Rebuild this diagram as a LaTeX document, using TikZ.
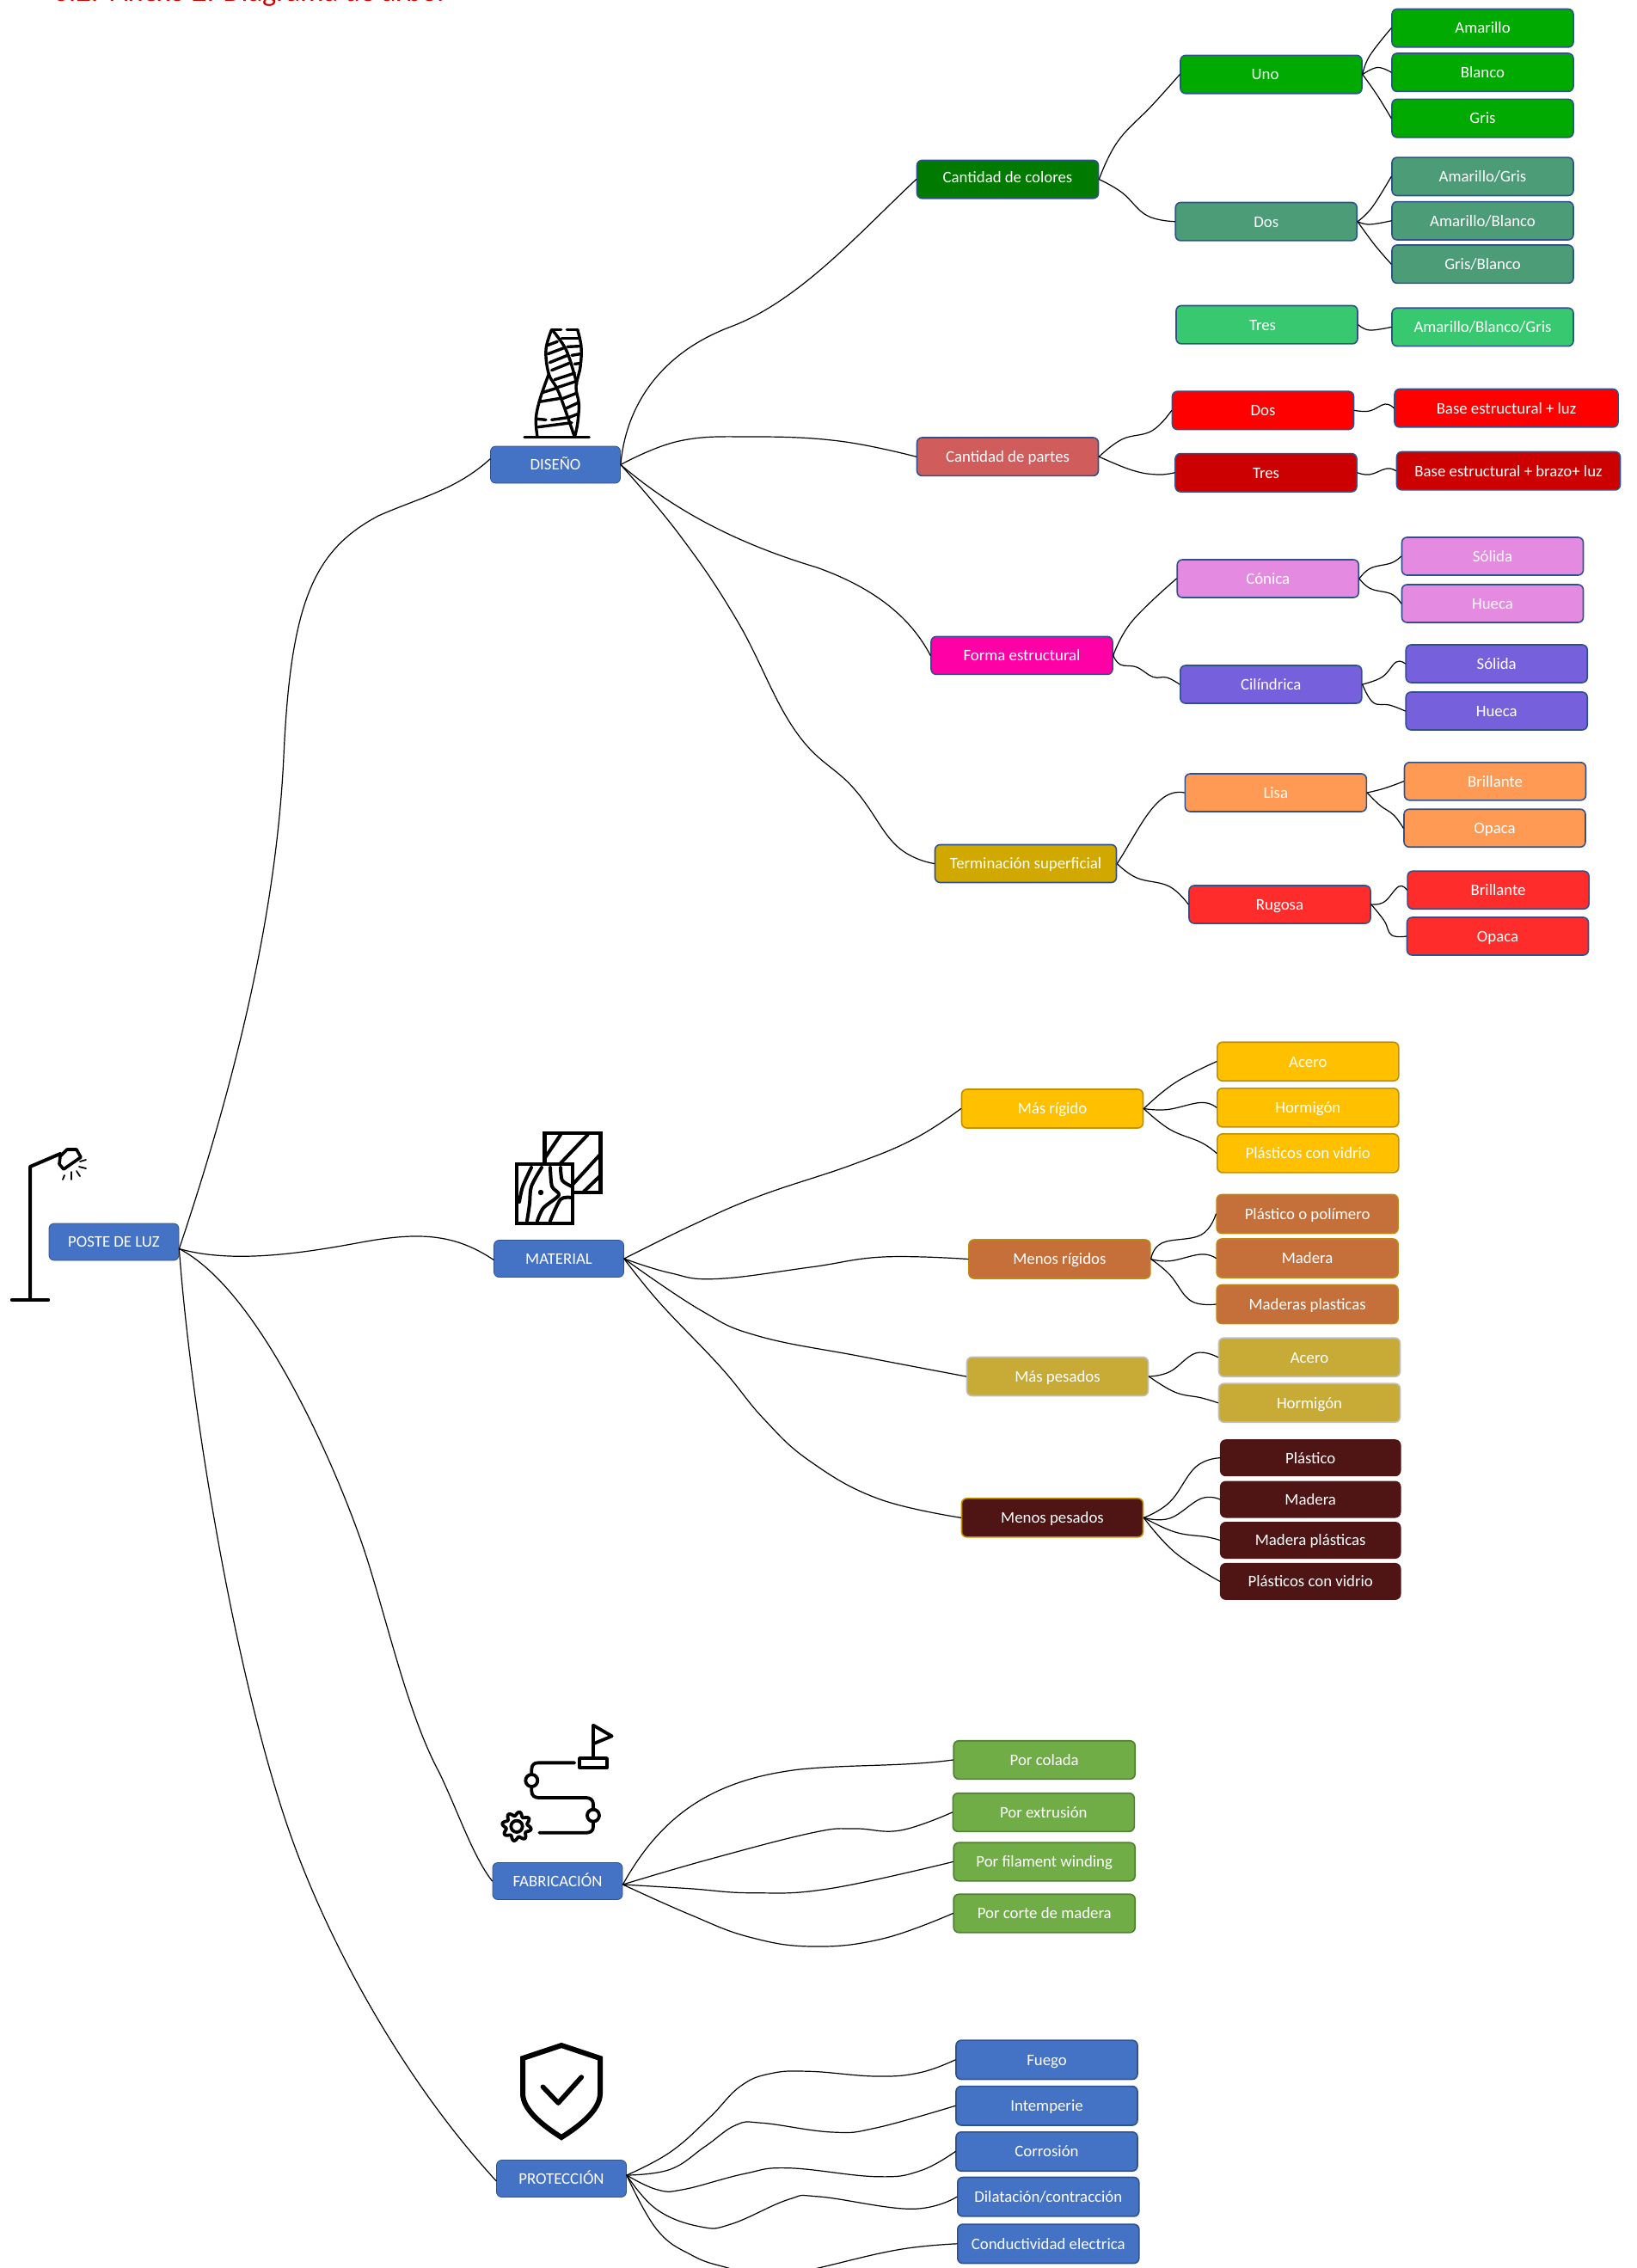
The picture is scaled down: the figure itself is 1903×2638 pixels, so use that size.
\documentclass[tikz,border=0pt]{standalone}
\usepackage{fontspec}
\setmainfont{Carlito}
\definecolor{cBlue}{HTML}{4472C4}\definecolor{cBlueD}{HTML}{2F528F}
\definecolor{cGreen}{HTML}{00AA00}\definecolor{cDGreen}{HTML}{007A00}
\definecolor{cTeal}{HTML}{4C9C78}\definecolor{cMint}{HTML}{38C870}
\definecolor{cRed}{HTML}{FF0000}\definecolor{cDRed}{HTML}{CC0000}
\definecolor{cRose}{HTML}{D05C5C}\definecolor{cPink}{HTML}{E48AE0}
\definecolor{cPurple}{HTML}{7660DC}\definecolor{cMag}{HTML}{FF00A6}
\definecolor{cOrange}{HTML}{FF9A55}\definecolor{cRug}{HTML}{FF2C2C}
\definecolor{cOcre}{HTML}{D0A800}\definecolor{cAmber}{HTML}{FFC000}
\definecolor{cAmberD}{HTML}{BF9000}\definecolor{cBrown}{HTML}{C5703A}
\definecolor{cSand}{HTML}{C8AB37}\definecolor{cMaroon}{HTML}{4F1414}
\definecolor{cLeaf}{HTML}{70AD47}\definecolor{cLeafD}{HTML}{507E32}
\definecolor{cTitle}{HTML}{D00000}
\tikzset{
 box/.style={rectangle,rounded corners=3pt,minimum width=105.5pt,minimum height=22.2pt,inner sep=0pt,text height=6.3pt,text depth=0pt,text=white,font=\fontsize{9.4}{10}\selectfont,line width=0.8pt,draw=cBlueD},
 root/.style={box,fill=cBlue,minimum width=75.5pt,minimum height=21.5pt,line width=0.4pt},
 wide/.style={minimum width=130pt},
 fGreen/.style={box,fill=cGreen},fDGreen/.style={box,fill=cDGreen},
 fTeal/.style={box,fill=cTeal},fMint/.style={box,fill=cMint},
 fRed/.style={box,fill=cRed},fDRed/.style={box,fill=cDRed},fRose/.style={box,fill=cRose},
 fPink/.style={box,fill=cPink,minimum height=22pt},fPurple/.style={box,fill=cPurple,minimum height=22pt},
 fMag/.style={box,fill=cMag,minimum height=22pt},fOrange/.style={box,fill=cOrange,minimum height=22pt},
 fRug/.style={box,fill=cRug,minimum height=22pt},fOcre/.style={box,fill=cOcre,minimum height=22pt},
 fAmber/.style={box,fill=cAmber,draw=cAmberD,minimum height=22.5pt},
 fBrown/.style={box,fill=cBrown,draw=cAmberD!70!cBrown,minimum height=22.5pt},
 fSand/.style={box,fill=cSand,draw=black!25,minimum height=22.5pt},
 fMaroon/.style={box,fill=cMaroon,draw=cAmberD,minimum height=22.5pt},
 fLeaf/.style={box,fill=cMaroon,draw=cMaroon,minimum width=104.5pt,minimum height=20.7pt},
 fGrass/.style={box,fill=cLeaf,draw=cLeafD,minimum height=22.3pt},
 fSea/.style={box,fill=cBlue,draw=cBlueD,minimum height=22.7pt},
 conn/.style={draw=black,line width=0.6pt,line cap=round},
 icon/.style={draw=black,line width=1.7pt,line cap=round,line join=round},
}
\begin{document}
\begin{tikzpicture}[x=0.5pt,y=-0.5pt]
\path[use as bounding box,clip] (0,0) rectangle (1903,2638);
\node[anchor=base west,text=cTitle,inner sep=0pt,font=\fontsize{17.2}{19}\selectfont] (title) at (62,2) {6.2.\hspace{7pt}Anexo 2. Diagrama de árbol};

% roots
\node[root] (poste) at (132.5,1444.5) {POSTE DE LUZ};
\node[root] (diseno) at (646,540.5) {DISEÑO};
\node[root] (material) at (650,1464) {MATERIAL};
\node[root] (fabrica) at (648.5,2188) {FABRICACIÓN};
\node[root] (protec) at (653,2534) {PROTECCIÓN};

% design
\node[fDGreen,text depth=2.5pt] (ccol) at (1172,208.6) {Cantidad de colores};
\node[fGreen] (uno) at (1478.5,86.6) {Uno\kern7pt};
\node[fGreen] (amarillo) at (1724.5,32.7) {Amarillo};
\node[fGreen] (blanco) at (1724.5,84.2) {Blanco};
\node[fGreen] (gris) at (1724.5,137.6) {Gris};
\node[fTeal] (dosc) at (1472.7,257.7) {Dos};
\node[fTeal] (amgr) at (1724.5,205.3) {Amarillo/Gris};
\node[fTeal] (ambl) at (1724.5,256.8) {Amarillo/Blanco};
\node[fTeal] (grbl) at (1724.5,307.2) {Gris/Blanco};
\node[fMint] (tresc) at (1473.5,377.7) {Tres\kern5pt};
\node[fMint] (amblgr) at (1724.5,380.4) {Amarillo/Blanco/Gris};
\node[fRose] (cpar) at (1172,531.2) {Cantidad de partes};
\node[fRed] (dosp) at (1469,477.4) {Dos};
\node[fRed,wide] (baseluz) at (1752,474.7) {Base estructural + luz};
\node[fDRed] (tresp) at (1472.5,549.8) {Tres};
\node[fDRed,wide] (basebr) at (1754.5,547.7) {Base estructural + brazo+ luz};
\node[fMag] (forma) at (1188.5,762.4) {Forma estructural};
\node[fPink] (conica) at (1474.7,673) {Cónica};
\node[fPink] (solpk) at (1736,647) {Sólida};
\node[fPink] (huepk) at (1736,702) {Hueca};
\node[fPurple] (cilin) at (1478.3,796) {Cilíndrica};
\node[fPurple] (solpu) at (1740.7,772) {Sólida};
\node[fPurple] (huepu) at (1740.7,827) {Hueca};
\node[fOcre] (termi) at (1193,1004.5) {Terminación superficial};
\node[fOrange] (lisa) at (1483.8,922) {Lisa};
\node[fOrange] (briol) at (1739,908.8) {Brillante};
\node[fOrange] (opaol) at (1738.5,963.2) {Opaca};
\node[fRug] (rugosa) at (1488.5,1052) {Rugosa};
\node[fRug] (brirg) at (1742.6,1035.2) {Brillante};
\node[fRug] (oparg) at (1742,1089) {Opaca};

% material
\node[fAmber] (mrig) at (1224,1289.5) {Más rígido};
\node[fAmber] (acero) at (1521.3,1234.7) {Acero};
\node[fAmber] (hormi) at (1521.3,1288.3) {Hormigón};
\node[fAmber] (plvid) at (1521.3,1341.4) {Plásticos con vidrio};
\node[fBrown] (merig) at (1232.4,1464.5) {Menos rígidos};
\node[fBrown] (plpol) at (1520.6,1412) {Plástico o polímero};
\node[fBrown] (made) at (1520.6,1463.5) {Madera};
\node[fBrown] (mapl) at (1520.6,1517) {Maderas plasticas};
\node[fSand] (mpes) at (1230,1601) {Más pesados};
\node[fSand] (acer2) at (1523,1578.7) {Acero};
\node[fSand] (horm2) at (1523,1631.7) {Hormigón};
\node[fMaroon] (mepes) at (1224,1765.3) {Menos pesados};
\node[fLeaf] (plas) at (1524.2,1695.7) {Plástico};
\node[fLeaf] (made2) at (1524.2,1744) {Madera};
\node[fLeaf] (mapl2) at (1524.2,1791.5) {Madera plásticas};
\node[fLeaf] (plvi2) at (1524.2,1839.4) {Plásticos con vidrio};

% fabrication
\node[fGrass] (colada) at (1214.7,2047) {Por colada};
\node[fGrass] (extru) at (1213.8,2108) {Por extrusión};
\node[fGrass] (filam) at (1214.7,2165.5) {Por filament winding};
\node[fGrass] (corte) at (1214.7,2225.5) {Por corte de madera};

% protection
\node[fSea] (fuego) at (1217.5,2395.8) {Fuego};
\node[fSea] (intem) at (1217.5,2449.3) {Intemperie};
\node[fSea] (corro) at (1217.5,2502.5) {Corrosión};
\node[fSea] (dilat) at (1219.3,2555.2) {Dilatación/contracción};
\node[fSea] (condu) at (1219.3,2609.8) {Conductividad electrica};

% connectors: root
\draw[conn] (poste.-6) .. controls (280,1240) and (322,1050) .. (330,880) .. controls (338,700) and (365,640) .. (440,600) .. controls (490,578) and (530,570) .. (diseno.175);
\draw[conn] (poste.-6) .. controls (270,1470) and (350,1458) .. (420,1445) .. controls (490,1432) and (530,1436) .. (material.181);
\draw[conn] (poste.-6) .. controls (300,1500) and (385,1695) .. (417,1784) .. controls (445,1860) and (470,1985) .. (510,2060) .. controls (530,2100) and (550,2160) .. (fabrica.180);
\draw[conn] (poste.-6) .. controls (222,1640) and (275,1960) .. (340,2140) .. controls (385,2265) and (470,2420) .. (protec.182);

% connectors: diseno
\draw[conn] (diseno.0) .. controls (728,470) and (770,410) .. (850,380) .. controls (930,350) and (1000,270) .. (ccol.180);
\draw[conn] plot[smooth,tension=.7] coordinates {(diseno.0) (790,513) (875,508) (976,513) (cpar.180)};
\draw[conn] (diseno.0) .. controls (780,590) and (850,630) .. (950,660) .. controls (1020,685) and (1060,720) .. (forma.180);
\draw[conn] plot[smooth,tension=.7] coordinates {(diseno.0) (791,623) (858,723) (925,850) (993,917) (1043,984) (termi.180)};
\draw[conn] plot[smooth,tension=.7] coordinates {(ccol.0) (1300,164.6) (1340,122.5) (uno.180)};
\draw[conn] plot[smooth,tension=.7] coordinates {(ccol.0) (1305,224) (1334,250.7) (dosc.180)};
\draw[conn] plot[smooth,tension=.7] coordinates {(uno.0) (1593,65) (amarillo.180)};
\draw[conn] plot[smooth,tension=.7] coordinates {(uno.0) (1602,78.5) (blanco.180)};
\draw[conn] plot[smooth,tension=.7] coordinates {(uno.0) (1602,111) (gris.180)};
\draw[conn] plot[smooth,tension=.7] coordinates {(dosc.0) (1596,241) (amgr.180)};
\draw[conn] plot[smooth,tension=.7] coordinates {(dosc.0) (1593,261) (ambl.180)};
\draw[conn] plot[smooth,tension=.7] coordinates {(dosc.0) (1599,285) (grbl.180)};
\draw[conn] plot[smooth,tension=.7] coordinates {(tresc.0) (1593,384) (amblgr.180)};
\draw[conn] plot[smooth,tension=.7] coordinates {(cpar.0) (1305,511) (1340,501) (dosp.180)};
\draw[conn] plot[smooth,tension=.7] coordinates {(cpar.0) (1317,547) (1346,552) (tresp.180)};
\draw[conn] plot[smooth,tension=.7] coordinates {(dosp.0) (1593,478) (1611,470) (baseluz.180)};
\draw[conn] plot[smooth,tension=.7] coordinates {(tresp.0) (1593,552) (1613,545) (basebr.180)};
\draw[conn] plot[smooth,tension=.7] coordinates {(forma.0) (1316.6,722.7) (conica.180)};
\draw[conn] plot[smooth,tension=.7] coordinates {(forma.0) (1303,773) (1322,776) (1341,787.4) (1357,788) (cilin.180)};
\draw[conn] plot[smooth,tension=.7] coordinates {(conica.0) (1594,661) (1618.5,654.7) (solpk.180)};
\draw[conn] plot[smooth,tension=.7] coordinates {(conica.0) (1594,684.6) (1618.5,691) (huepk.180)};
\draw[conn] plot[smooth,tension=.7] coordinates {(cilin.0) (1607.7,787.4) (1624,770) (solpu.180)};
\draw[conn] plot[smooth,tension=.7] coordinates {(cilin.0) (1597,817) (1616,820) (huepu.180)};
\draw[conn] (termi.0) .. controls (1325,965) and (1345,915) .. (lisa.180);
\draw[conn] plot[smooth,tension=.7] coordinates {(termi.0) (1322,1021) (1360,1031) (rugosa.180)};
\draw[conn] plot[smooth,tension=.7] coordinates {(lisa.0) (1610,917) (briol.180)};
\draw[conn] plot[smooth,tension=.7] coordinates {(lisa.0) (1605,936.7) (1621,948) (opaol.180)};
\draw[conn] plot[smooth,tension=.7] coordinates {(rugosa.0) (1610,1049) (1627,1031) (brirg.180)};
\draw[conn] plot[smooth,tension=.7] coordinates {(rugosa.0) (1610,1071) (1618.5,1087.6) (oparg.180)};

% connectors: material
\draw[conn] plot[smooth,tension=.7] coordinates {(material.0) (803,1426) (882,1391.6) (991,1354.8) (1063.6,1324.4) (mrig.180)};
\draw[conn] plot[smooth,tension=.7] coordinates {(material.0) (779,1480.5) (833,1487.5) (942,1474) (1027,1462) (merig.180)};
\draw[conn] plot[smooth,tension=.7] coordinates {(material.0) (815,1524) (882,1554) (1003,1578) (mpes.180)};
\draw[conn] plot[smooth,tension=.7] coordinates {(material.0) (767,1515) (839,1591) (888,1650) (942,1699.5) (1021,1743) (mepes.180)};
\draw[conn] plot[smooth,tension=.7] coordinates {(mrig.0) (1366.7,1259.4) (acero.180)};
\draw[conn] plot[smooth,tension=.7] coordinates {(mrig.0) (1357.6,1290.6) (1397,1282.4) (hormi.180)};
\draw[conn] plot[smooth,tension=.7] coordinates {(mrig.0) (1360.6,1313.6) (1397,1328.8) (plvid.180)};
\draw[conn] plot[smooth,tension=.7] coordinates {(merig.0) (1351.5,1445.8) (1397,1436.3) (plpol.180)};
\draw[conn] plot[smooth,tension=.7] coordinates {(merig.0) (1360.6,1466.7) (1397,1458.9) (made.180)};
\draw[conn] plot[smooth,tension=.7] coordinates {(merig.0) (1360.6,1482.7) (1385,1513) (mapl.180)};
\draw[conn] plot[smooth,tension=.7] coordinates {(mpes.0) (1360.6,1595.5) (1391,1573.8) (acer2.180)};
\draw[conn] plot[smooth,tension=.7] coordinates {(mpes.0) (1366.7,1619.3) (1397,1625.8) (horm2.180)};
\draw[conn] plot[smooth,tension=.7] coordinates {(mepes.0) (1360.6,1747) (1391,1706) (plas.180)};
\draw[conn] plot[smooth,tension=.7] coordinates {(mepes.0) (1360.6,1766) (1397,1743) (made2.180)};
\draw[conn] plot[smooth,tension=.7] coordinates {(mepes.0) (1366.7,1782) (1403,1787.6) (mapl2.180)};
\draw[conn] plot[smooth,tension=.7] coordinates {(mepes.0) (1366.7,1805.8) (plvi2.180)};

% connectors: fabricacion
\draw[conn] (fabrica.-3) .. controls (770,2110) and (830,2070) .. (930,2058) .. controls (990,2052) and (1050,2055) .. (colada.180);
\draw[conn] plot[smooth,tension=.7] coordinates {(fabrica.-3) (822.4,2163.3) (945,2131.7) (994,2127) (1047,2129) (extru.180)};
\draw[conn] plot[smooth,tension=.7] coordinates {(fabrica.-3) (802,2196.7) (875.5,2201.7) (965,2196.7) (filam.180)};
\draw[conn] plot[smooth,tension=.7] coordinates {(fabrica.-3) (802,2226.7) (871.4,2253) (945,2264) (1026.5,2255) (corte.180)};

% connectors: proteccion
\draw[conn] plot[smooth,tension=.7] coordinates {(protec.3) (779.4,2503.3) (825,2463.3) (861,2426.7) (896.7,2411.7) (942.7,2409.3) (1019,2415) (1070,2410.7) (fuego.180)};
\draw[conn] plot[smooth,tension=.7] coordinates {(protec.3) (779.4,2523.3) (820,2496.7) (856,2471.7) (886.5,2469.3) (968,2480) (1019,2475) (intem.180)};
\draw[conn] plot[smooth,tension=.7] coordinates {(protec.3) (764,2546.7) (794.7,2546.7) (866,2528.3) (917,2521.7) (1019,2531.7) (1070,2525) (corro.180)};
\draw[conn] plot[smooth,tension=.7] coordinates {(protec.3) (764,2570) (815,2590) (851,2586.7) (917,2558.3) (953,2555) (1060,2569.3) (dilat.180)};
\draw[conn] plot[smooth,tension=.7] coordinates {(protec.3) (764,2593.3) (805,2623.3) (846,2637.7) (900,2650) (953,2637.7) (1044.7,2616.7) (condu.180)};

% lamp icon
\draw[icon,line width=2.2pt] (14,1512) -- (56,1512);
\draw[icon,line width=2pt] (35,1512) -- (35,1357) -- (70,1342);
\draw[icon,line width=1.8pt] (70,1345) -- (78,1337) -- (89,1337) -- (94,1346) -- (74,1360) -- (69,1354) -- cycle;
\draw[icon,line width=.9pt] (77,1357) -- (88,1350);
\draw[icon,line width=.9pt] (75,1367) -- (73,1372) (83,1363) -- (83,1372) (89,1362) -- (93,1368) (92,1357) -- (100,1359) (93,1351) -- (100,1349);

% tower icon
\begin{scope}[shift={(540,360)},scale=0.3333,icon]
\draw (210,445) -- (436,445);
\draw plot[smooth,tension=.6] coordinates {(255,445) (250,380) (265,310) (295,225)};
\draw plot[smooth,tension=.6] coordinates {(305,70) (285,140) (295,225) (330,290) (385,445)};
\draw plot[smooth,tension=.6] coordinates {(395,70) (408,130) (405,200) (390,270) (400,330) (395,400) (385,445)};
\draw (305,70) -- (338,70) (358,70) -- (395,70);
\draw plot[smooth,tension=.6] coordinates {(310,75) (355,140) (385,230) (392,262)};
\foreach \a/\b/\c/\d in {290/125/325/112, 292/155/345/135, 298/185/360/160, 305/212/372/185, 315/245/385/222, 325/272/392/250,
  340/100/400/100, 360/130/405/128, 375/160/405/155, 385/190/403/188,
  272/290/320/275, 262/322/335/310, 345/310/392/292, 355/345/398/325, 362/378/395/365,
  258/410/375/395}
  {\draw (\a,\b) -- (\c,\d);}
\draw (255,382) -- (285,385) (305,385) -- (355,378);
\end{scope}

% material icon
\draw[icon,line cap=butt,line join=miter,line width=2.4pt] (633.5,1318) rectangle (698.5,1387);
\begin{scope}[icon,line width=2pt]
\draw (633,1348) -- (652,1320) (652,1353) -- (683.5,1320) (667,1376.7) -- (699,1341.7) (679,1386) -- (699,1366.7);
\end{scope}
\draw[icon,fill=white,line cap=butt,line join=miter,line width=2.4pt] (601,1354) rectangle (666,1423);
\begin{scope}[icon,line width=2pt]
\draw plot[smooth] coordinates {(618,1358) (608,1380) (604,1398)};
\draw plot[smooth] coordinates {(630,1358) (618,1380) (616,1400) (613,1420)};
\draw plot[smooth] coordinates {(640,1358) (642,1380) (650,1390) (632,1405) (625,1420)};
\draw plot[smooth] coordinates {(652,1358) (654,1373) (665,1380)};
\draw plot[smooth] coordinates {(665,1393) (652,1395) (640,1420)};
\fill (629,1387) circle (3.2);
\end{scope}

% fabrication icon
\begin{scope}[shift={(550,1970)},scale=0.3333,icon,line width=1.9pt]
\draw (420,225) -- (420,110) -- (485,148) -- (420,175);
\draw (372,225) rectangle (468,258);
\draw (355,241) -- (228,241) .. controls (212,241) and (205,250) .. (205,265) -- (205,282);
\draw (205,303) circle (21);
\draw (205,325) -- (205,340) .. controls (205,355) and (215,363) .. (230,363) -- (395,363) .. controls (410,363) and (420,372) .. (420,385) -- (420,402);
\draw (420,425) circle (21);
\draw (420,448) -- (420,465) .. controls (420,478) and (410,485) .. (398,485) -- (232,485);
\draw (153,463) circle (20);
\draw plot[samples=97,domain=0:360,smooth] ({153+(44+7*sin(8*\x))*cos(\x)},{463+(44+7*sin(8*\x))*sin(\x)});
\end{scope}

% shield icon
\draw[icon,line width=3pt,line cap=butt,line join=miter] (653,2379) -- (698,2394) -- (698,2435) .. controls (698,2455) and (672,2474) .. (653,2486) .. controls (634,2474) and (608,2455) .. (608,2435) -- (608,2394) -- cycle;
\draw[icon,line width=2.8pt] (631.4,2427.3) -- (649.3,2446) -- (676.3,2416);
\end{tikzpicture}
\end{document}
